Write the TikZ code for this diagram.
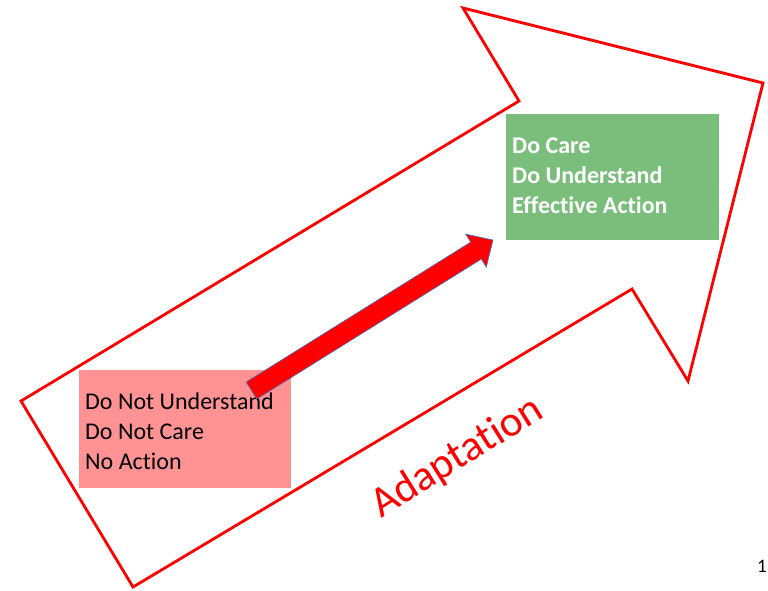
\documentclass[tikz,border=0pt]{standalone}
\usepackage{fontspec}
\setmainfont{Carlito}[Ligatures=NoCommon]
\definecolor{pinkfill}{RGB}{255,147,147}
\definecolor{greenfill}{RGB}{123,190,123}
\definecolor{arrowedge}{RGB}{68,114,196}
\begin{document}
\begin{tikzpicture}[x=1pt,y=-1pt,
  bigarrow/.style={draw=red,line width=2.8pt,line join=miter},
  statebox/.style={draw=none,inner sep=0,outer sep=0,anchor=north west},
  statetext/.style={inner sep=0,anchor=base west,align=left,font=\fontsize{24}{30}\selectfont},
  smallarrow/.style={fill=red,draw=arrowedge,line width=0.6pt,line join=miter},
  label/.style={inner sep=0,anchor=base west,text=red,font=\fontsize{43}{50}\selectfont}]
\useasboundingbox (0,0) rectangle (768,590);
% big outline arrow
\coordinate (t1) at (21,401);
\coordinate (n1) at (519,101);
\coordinate (h1) at (463,8);
\coordinate (h2) at (763,83);
\coordinate (h3) at (688,381);
\coordinate (n2) at (632,289);
\coordinate (t2) at (133,587);
\draw[bigarrow] (t1) -- (n1) -- (h1) -- (h2) -- (h3) -- (n2) -- (t2) -- cycle;
% boxes
\node[statebox,fill=pinkfill,minimum width=212pt,minimum height=118pt] (bad) at (79,370) {};
\node[statebox,fill=greenfill,minimum width=213pt,minimum height=126pt] (good) at (506,114) {};
\node[statetext] (badtext) at (85,469) {Do Not Understand\\Do Not Care\\No Action};
\node[statetext,text=white,font=\fontsize{24}{30}\selectfont\bfseries] (goodtext) at (512,213) {Do Care\\Do Understand\\Effective Action};
% small solid arrow
\coordinate (a1) at (246.2,382.0);
\coordinate (a2) at (470.7,242.1);
\coordinate (a3) at (465.7,234.1);
\coordinate (a4) at (493,240);
\coordinate (a5) at (486.3,267.1);
\coordinate (a6) at (481.3,259.1);
\coordinate (a7) at (256.8,399.0);
\draw[smallarrow] (a1) -- (a2) -- (a3) -- (a4) -- (a5) -- (a6) -- (a7) -- cycle;
% label
\node[label,rotate=32] (adapt) at (381,519) {Adaptation};
\node[inner sep=0,anchor=base,font=\fontsize{19}{22}\selectfont] (pagenum) at (762,572) {1};
\end{tikzpicture}
\end{document}
